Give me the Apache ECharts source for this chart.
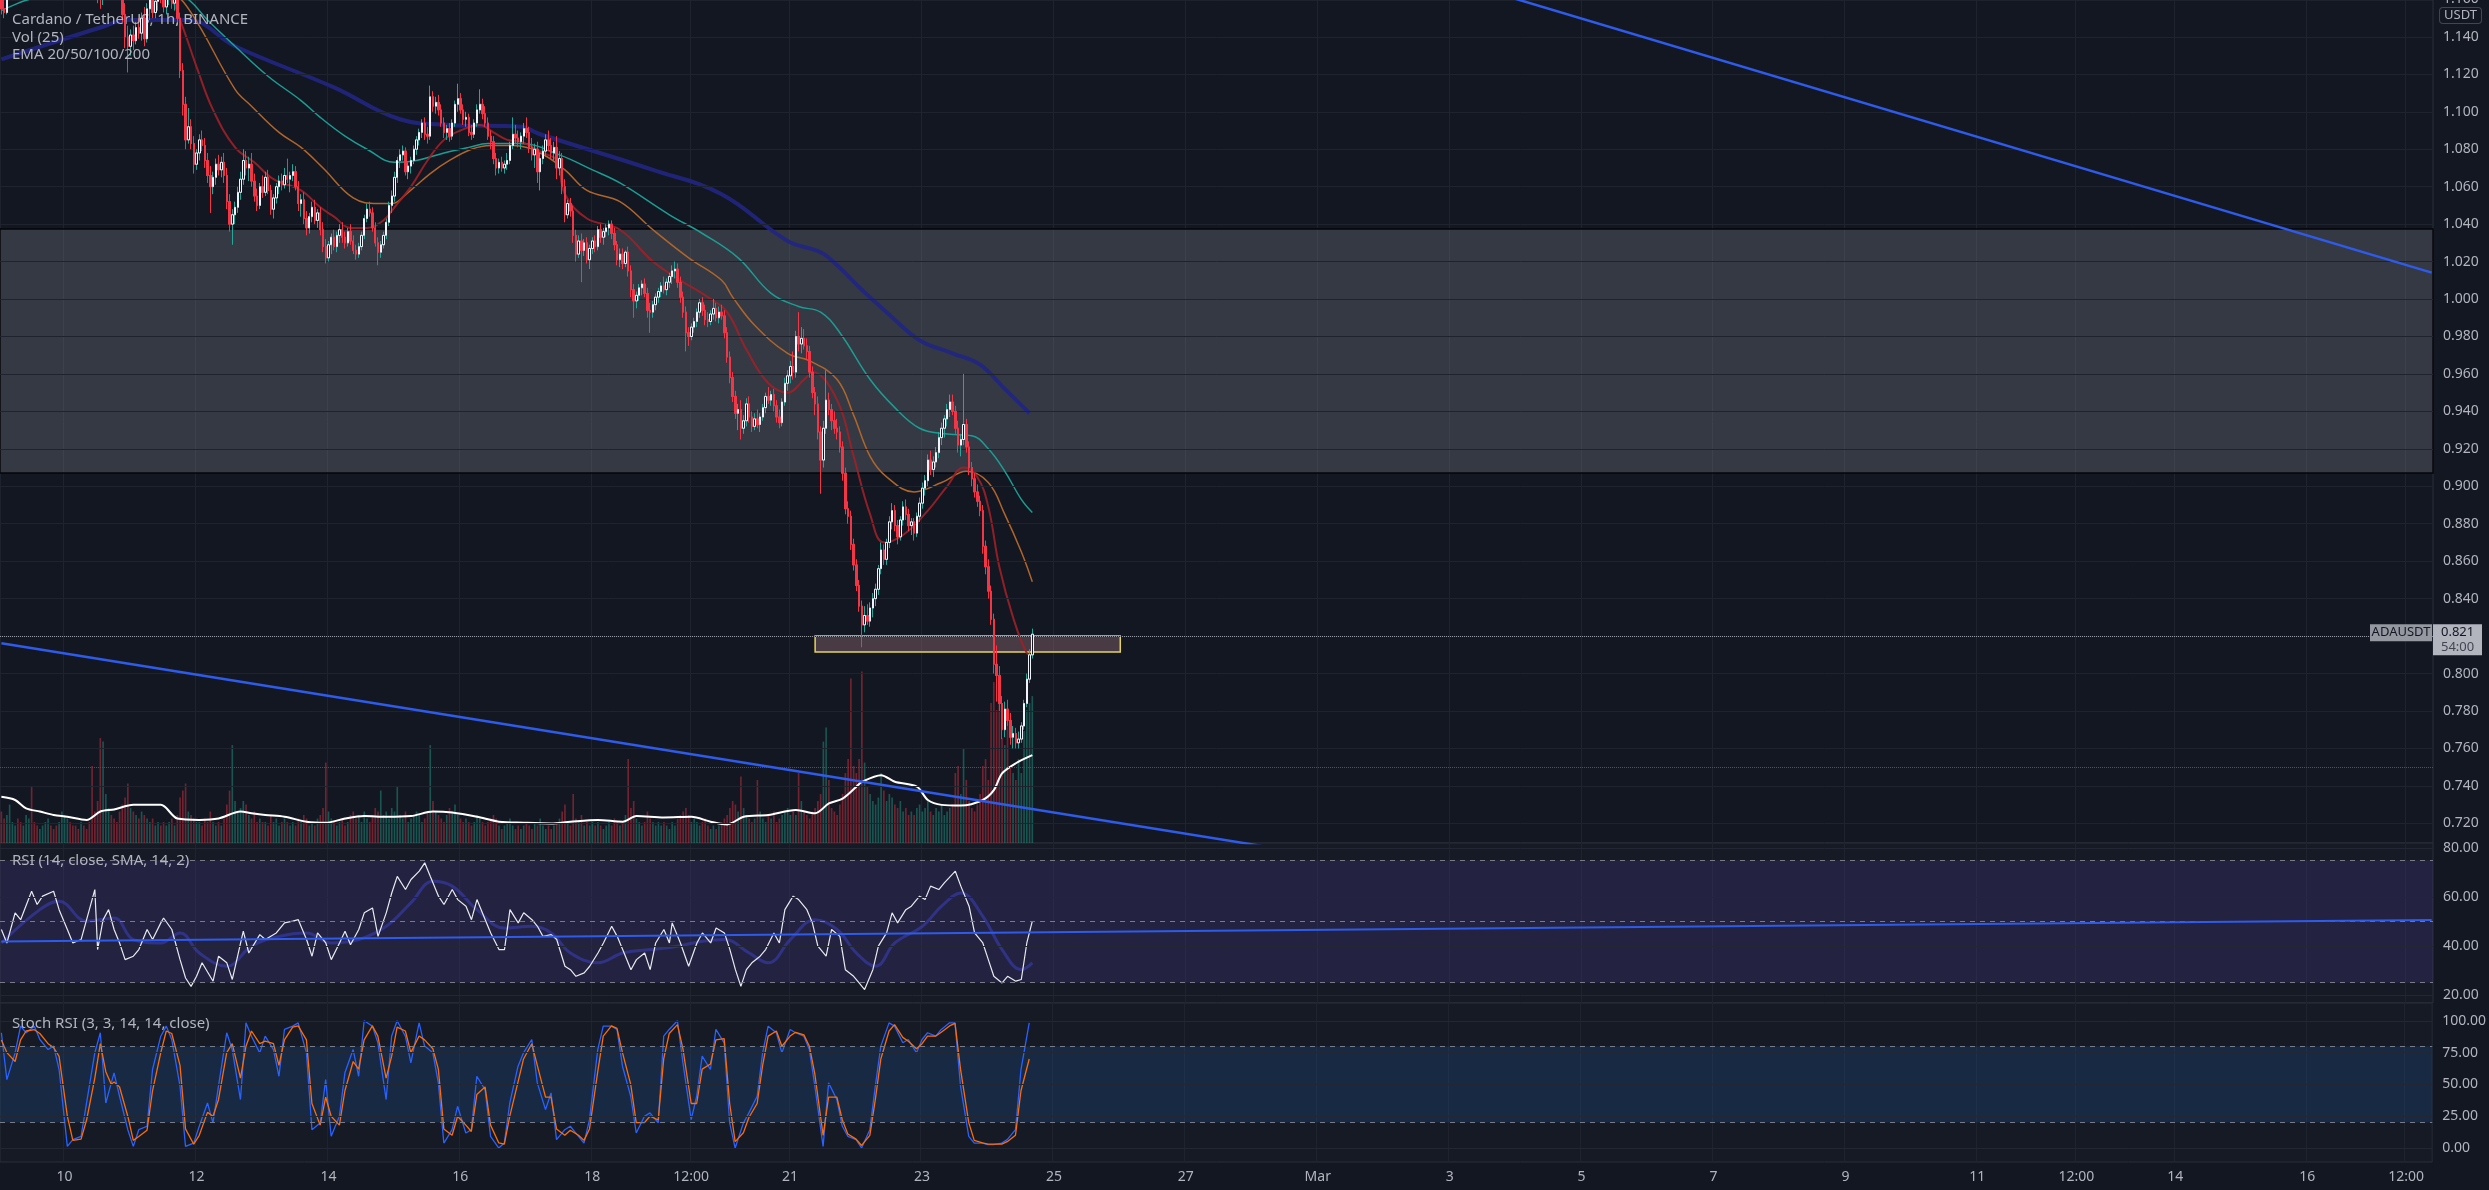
<!DOCTYPE html>
<html><head><meta charset="utf-8">
<script src="https://cdn.jsdelivr.net/npm/echarts@6/dist/echarts.min.js"></script>
<style>html,body{margin:0;padding:0;background:#131722;}#c{width:2489px;height:1190px;}</style>
</head><body><div id="c"></div>
<script>
// ---------- DATA (prices in thousandths of USDT) ----------
// hourly candles from Feb 9 01:00, rows are [open, high, low, close]
const ohlc = [
[1165,1170,1152,1155],[1155,1160,1150,1153],[1153,1166,1152,1163],[1163,1175,1160,1172],
[1172,1182,1168,1180],[1180,1188,1175,1184],[1184,1190,1178,1181],[1181,1186,1172,1176],
[1176,1183,1170,1179],[1179,1192,1177,1189],[1189,1196,1184,1192],[1192,1198,1186,1188],
[1188,1193,1180,1183],[1183,1187,1174,1178],[1178,1185,1173,1182],[1182,1190,1179,1187],
[1187,1195,1183,1191],[1191,1199,1187,1195],[1195,1202,1189,1192],[1192,1197,1184,1186],
[1186,1191,1178,1181],[1181,1188,1176,1185],[1185,1194,1182,1190],[1190,1205,1188,1201],
[1201,1212,1195,1207],[1207,1215,1199,1203],[1203,1208,1194,1198],[1198,1204,1190,1195],
[1195,1200,1186,1189],[1189,1196,1183,1192],[1192,1198,1185,1187],[1187,1192,1178,1182],
[1182,1188,1174,1178],[1178,1184,1170,1174],[1174,1180,1166,1170],[1170,1176,1158,1164],
[1164,1170,1155,1161],[1161,1172,1157,1169],[1169,1185,1166,1182],[1182,1195,1178,1190],
[1190,1198,1183,1186],[1186,1191,1175,1179],[1179,1184,1168,1172],[1172,1178,1161,1165],
[1165,1170,1148,1152],[1152,1158,1134,1140],[1140,1146,1121,1135],[1135,1144,1130,1141],
[1141,1146,1133,1138],[1138,1148,1136,1145],[1145,1150,1139,1142],[1142,1153,1138,1150],
[1150,1156,1135,1139],[1139,1158,1137,1155],[1155,1163,1149,1160],[1160,1165,1150,1153],
[1153,1162,1150,1159],[1159,1168,1154,1164],[1164,1172,1158,1161],[1161,1166,1153,1156],
[1156,1164,1152,1162],[1162,1170,1157,1165],[1165,1168,1155,1158],[1158,1166,1154,1163],
[1163,1167,1146,1150],[1150,1153,1118,1122],[1122,1126,1098,1104],[1104,1108,1080,1085],
[1085,1102,1083,1092],[1092,1096,1080,1083],[1083,1087,1067,1072],[1072,1080,1069,1078],
[1078,1088,1074,1085],[1085,1090,1079,1082],[1082,1086,1070,1074],[1074,1078,1062,1066],
[1066,1071,1046,1060],[1060,1068,1056,1065],[1065,1075,1061,1072],[1072,1077,1066,1069],
[1069,1076,1065,1073],[1073,1078,1062,1066],[1066,1070,1048,1052],[1052,1056,1036,1040],
[1040,1048,1029,1045],[1045,1052,1040,1049],[1049,1060,1046,1057],[1057,1068,1053,1064],
[1064,1080,1061,1074],[1074,1079,1066,1070],[1070,1076,1063,1072],[1072,1078,1060,1063],
[1063,1067,1052,1055],[1055,1059,1047,1050],[1050,1062,1048,1060],[1060,1066,1054,1057],
[1057,1068,1055,1065],[1065,1069,1056,1058],[1058,1061,1045,1048],[1048,1056,1043,1054],
[1054,1062,1051,1060],[1060,1066,1056,1063],[1063,1067,1058,1061],[1061,1070,1059,1066],
[1066,1075,1062,1064],[1064,1068,1057,1066],[1066,1072,1063,1068],[1068,1071,1058,1060],
[1060,1063,1047,1051],[1051,1056,1044,1053],[1053,1057,1040,1043],[1043,1047,1034,1038],
[1038,1046,1035,1044],[1044,1052,1041,1049],[1049,1053,1040,1042],[1042,1048,1038,1046],
[1046,1049,1034,1037],[1037,1041,1025,1028],[1028,1032,1019,1022],[1022,1031,1020,1029],
[1029,1035,1024,1033],[1033,1037,1026,1028],[1028,1036,1025,1034],[1034,1040,1030,1037],
[1037,1041,1030,1033],[1033,1036,1027,1030],[1030,1038,1028,1036],[1036,1040,1029,1031],
[1031,1034,1024,1026],[1026,1029,1021,1024],[1024,1030,1022,1028],[1028,1036,1026,1034],
[1034,1045,1032,1043],[1043,1051,1041,1048],[1048,1052,1044,1046],[1046,1049,1036,1038],
[1038,1041,1028,1030],[1030,1033,1018,1025],[1025,1031,1022,1029],[1029,1036,1027,1034],
[1034,1043,1032,1041],[1041,1052,1039,1050],[1050,1058,1046,1055],[1055,1068,1052,1065],
[1065,1076,1062,1074],[1074,1080,1070,1077],[1077,1082,1074,1079],[1079,1081,1066,1068],
[1068,1073,1064,1071],[1071,1076,1067,1074],[1074,1082,1072,1080],[1080,1087,1077,1085],
[1085,1091,1082,1089],[1089,1096,1086,1094],[1094,1097,1085,1088],[1088,1092,1083,1087],
[1087,1114,1085,1108],[1108,1111,1100,1103],[1103,1108,1099,1105],[1105,1109,1098,1101],
[1101,1104,1092,1094],[1094,1097,1086,1089],[1089,1093,1085,1091],[1091,1094,1084,1087],
[1087,1096,1085,1094],[1094,1106,1092,1104],[1104,1115,1100,1107],[1107,1110,1099,1101],
[1101,1104,1093,1096],[1096,1100,1092,1097],[1097,1099,1087,1089],[1089,1093,1085,1088],
[1088,1096,1086,1094],[1094,1104,1092,1101],[1101,1112,1099,1104],[1104,1107,1096,1099],
[1099,1103,1092,1094],[1094,1097,1085,1087],[1087,1090,1080,1084],[1084,1087,1072,1075],
[1075,1078,1066,1070],[1070,1075,1067,1073],[1073,1076,1068,1070],[1070,1074,1067,1072],
[1072,1078,1069,1074],[1074,1084,1072,1082],[1082,1097,1080,1088],[1088,1093,1083,1086],
[1086,1090,1081,1084],[1084,1089,1080,1087],
[1087,1094,1083,1091],[1091,1097,1086,1089],[1089,1092,1078,1081],[1081,1086,1074,1077],
[1077,1083,1070,1080],[1080,1084,1062,1068],[1068,1078,1058,1075],[1075,1082,1072,1079],
[1079,1088,1076,1085],[1085,1090,1079,1082],[1082,1086,1075,1078],[1078,1084,1074,1081],
[1081,1087,1064,1070],[1070,1079,1066,1075],[1075,1078,1056,1060],[1060,1064,1041,1045],
[1045,1053,1043,1051],[1051,1054,1044,1047],[1047,1050,1030,1034],[1034,1037,1020,1024],
[1024,1034,1022,1031],[1031,1035,1009,1026],[1026,1032,1023,1030],[1030,1033,1019,1021],
[1021,1029,1016,1027],[1027,1033,1024,1031],[1031,1034,1025,1028],[1028,1039,1026,1037],
[1037,1040,1030,1033],[1033,1038,1029,1036],[1036,1040,1033,1038],[1038,1042,1034,1040],
[1040,1042,1032,1035],[1035,1038,1026,1029],
[1029,1031,1018,1021],[1021,1027,1017,1024],[1024,1027,1016,1019],[1019,1026,1017,1025],
[1025,1028,1012,1015],[1015,1018,1001,1005],[1005,1008,990,999],[999,1004,995,1002],
[1002,1008,999,1006],[1006,1010,1002,1008],[1008,1011,1001,1003],[1003,1006,990,994],
[994,998,982,993],[993,999,990,997],[997,1003,994,1001],[1001,1006,998,1004],
[1004,1009,1001,1007],[1007,1012,1003,1005],[1005,1011,1002,1009],[1009,1014,1006,1012],
[1012,1018,1008,1015],[1015,1020,1011,1016],[1016,1019,1006,1009],[1009,1012,998,1001],
[1001,1004,990,993],[993,996,972,982],
[982,985,975,980],[980,987,978,985],[985,990,982,988],[988,995,985,993],
[993,1000,990,998],[998,1001,991,994],[994,997,986,989],[989,993,985,988],
[988,994,986,992],[992,1000,989,995],[995,998,988,990],[990,996,987,993],
[993,997,989,991],[991,994,979,982],
[982,985,966,969],[969,972,955,958],[958,961,945,948],[948,951,936,939],
[939,944,930,941],[941,946,925,931],[931,938,928,935],[935,947,932,944],
[944,948,934,937],[937,940,929,932],[932,939,930,936],[936,941,931,933],
[933,939,929,937],[937,944,935,942],[942,950,939,948],[948,953,944,946],
[946,951,943,949],[949,952,940,943],[943,946,934,937],[937,941,931,934],
[934,947,932,945],[945,958,943,955],[955,962,951,959],[959,967,955,964],
[964,972,957,961],[961,983,958,980],[980,993,972,976],[976,985,971,979],
[979,984,973,975],[975,979,968,972],[972,975,958,961],[961,964,947,950],
[950,953,938,944],[944,948,925,929],[929,932,896,914],[914,935,910,931],
[931,962,928,946],[946,950,938,941],[941,944,930,935],[935,940,928,931],
[931,936,925,929],[929,932,918,921],[921,924,903,907],[907,910,885,888],
[888,892,880,884],[884,887,866,869],[869,872,855,858],[858,861,844,847],
[847,850,833,836],[836,839,814,826],[826,836,822,831],[831,837,826,828],
[828,838,825,835],[835,843,830,840],[840,848,836,845],[845,858,842,856],
[856,870,853,866],[866,869,858,861],[861,872,858,870],[870,884,867,881],
[881,891,877,887],[887,890,876,879],[879,882,869,873],[873,884,871,882],
[882,892,879,889],[889,893,882,885],[885,888,876,879],[879,883,874,881],
[881,883,871,875],[875,886,873,884],[884,894,881,891],[891,902,888,899],
[899,906,895,903],[903,917,900,914],[914,919,906,909],[909,916,905,913],
[913,921,910,918],[918,929,915,926],[926,934,922,931],[931,938,926,936],
[936,944,932,941],[941,949,937,945],[945,949,938,940],[940,943,928,931],
[931,935,918,922],[922,928,916,925],[925,960,922,933],[933,936,918,921],
[921,924,906,910],[910,913,900,904],[904,907,894,897],[897,901,889,892],
[892,895,884,887],[887,890,864,868],[868,871,853,857],[857,861,840,844],
[844,847,826,829],[829,832,800,805],[805,815,785,799],[799,804,780,784],
[784,788,765,770],[770,785,766,781],[781,786,772,775],[775,779,762,766],
[766,772,760,768],[768,771,760,763],[763,769,760,765],[765,774,763,772],
[772,786,770,784],[784,800,782,797],[797,813,795,810],[810,824,808,821]
];
// hourly volume, millions ADA
const volume = [
9,7,8,11,6,5,7,6,5,8,7,16, 6,5,4,5,6,7,5,4,5,6,9,8, 7,6,5,5,4,6,5,4,6,22,9,12,
30,29,14,10,8,7,6,9,11,13,17,10, 9,8,7,9,8,7,6,7,5,6,5,6, 5,6,7,5,8,13,15,17,9,8,7,6,
6,5,7,6,9,6,5,6,5,7,11,15, 28,12,9,10,12,11,8,7,9,6,7,6, 6,5,8,6,7,5,6,7,6,5,6,5,
7,6,8,7,5,6,5,7,8,10,23,9, 7,6,5,6,7,5,6,8,9,7,8,6, 9,7,6,8,10,9,15,8,9,7,10,9,
16,8,7,9,6,7,8,9,8,6,7,9, 28,12,9,8,7,6,8,10,9,11,8,7, 6,7,6,5,6,8,7,6,5,6,7,8,
7,5,4,5,6,7,5,4,5,4,5,6, 5,4,6,5,7,5,4,5,4,5,6,7, 9,11,6,5,14,7,6,8,5,6,5,6,
5,6,5,4,5,6,5,7,6,5,6,8, 24,10,12,7,6,5,6,9,7,6,5,6, 5,6,5,4,6,5,7,8,9,10,8,6,
7,6,5,6,7,5,4,5,4,5,6,7, 8,10,12,11,9,19,10,8,7,6,7,18, 9,7,6,8,7,9,6,7,8,9,10,8,
9,8,20,12,9,8,7,9,10,12,14,29, 33,18,10,9,8,11,14,20,24,47,22,20, 24,49,23,16,14,12,11,13,20,15,12,14,
13,11,10,12,9,10,8,9,8,10,11,9, 10,12,9,8,10,9,11,8,9,10,11,20, 22,14,27,18,12,10,9,11,14,22,24,18,
40,46,38,45,30,28,35,22,20,18,24,20, 32,38,40,42
];
// read points [hour, value]
const volMA = [[1,13.2],[6,12.3],[10,9.9],[15,9.0],[20,8.0],[25,7.5],[32,6.6],[37,9.0],[42,9.6],[49,10.9],[59,10.9],[65,7.0],[73,6.6],[80,7.0],[88,9.0],[92,8.5],[97,8.0],[104,7.5],[112,6.1],[119,5.8],[126,7.0],[133,7.7],[141,7.5],[150,7.7],[158,9.0],[165,8.7],[174,7.5],[182,6.1],[191,5.8],[201,5.6],[208,6.1],[218,6.6],[227,6.1],[232,7.7],[242,7.3],[252,7.5],[259,6.1],[265,5.3],[271,7.5],[280,8.0],[290,9.4],[297,8.5],[302,11.3],[307,12.7],[312,16.1],[314,17.5],[321,19.4],[326,17.5],[334,16.1],[338,12.3],[343,10.9],[350,10.7],[358,12.3],[362,15.1],[365,19.9],[370,22.8],[376,25.1]];
const ema20 = [[40,1.175],[55,1.163],[62,1.161],[66,1.149],[72,1.124],[78,1.101],[86,1.081],[93,1.073],[100,1.064],[110,1.058],[117,1.049],[122,1.044],[128,1.038],[134,1.038],[140,1.042],[144,1.049],[150,1.060],[156,1.074],[162,1.085],[168,1.090],[175,1.093],[180,1.089],[185,1.085],[190,1.084],[198,1.078],[203,1.074],[206,1.056],[214,1.043],[226,1.037],[238,1.020],[248,1.010],[258,1.001],[265,0.993],[272,0.973],[280,0.955],[287,0.950],[293,0.957],[296,0.961],[305,0.946],[311,0.916],[317,0.885],[322,0.870],[329,0.874],[338,0.887],[345,0.900],[351,0.910],[356,0.905],[360,0.889],[364,0.857],[369,0.830],[374,0.811],[376,0.810]];
const ema50 = [[50,1.170],[62,1.165],[70,1.153],[86,1.112],[92,1.103],[102,1.089],[110,1.081],[118,1.070],[129,1.054],[138,1.051],[143,1.051],[149,1.057],[157,1.067],[164,1.074],[172,1.080],[179,1.082],[187,1.082],[197,1.078],[206,1.069],[214,1.058],[226,1.052],[238,1.037],[251,1.022],[263,1.010],[267,1.001],[275,0.986],[287,0.971],[295,0.967],[305,0.957],[311,0.938],[317,0.916],[323,0.905],[333,0.897],[343,0.902],[352,0.908],[360,0.902],[366,0.885],[372,0.865],[376,0.849]];
const ema100 = [[1,1.154],[4,1.156],[11,1.160],[30,1.165],[50,1.167],[62,1.165],[69,1.160],[76,1.149],[86,1.135],[98,1.119],[110,1.106],[117,1.097],[126,1.087],[134,1.080],[144,1.073],[152,1.074],[162,1.078],[171,1.081],[178,1.083],[190,1.083],[204,1.077],[216,1.069],[226,1.062],[244,1.045],[256,1.035],[269,1.022],[281,1.003],[291,0.996],[299,0.993],[306,0.982],[317,0.957],[326,0.942],[335,0.931],[344,0.928],[354,0.927],[360,0.920],[366,0.908],[372,0.893],[376,0.886]];
const ema200 = [[1,1.128],[37,1.145],[47,1.149],[69,1.149],[86,1.135],[122,1.113],[146,1.096],[164,1.093],[190,1.092],[197,1.088],[238,1.069],[263,1.056],[287,1.031],[299,1.025],[305,1.018],[314,1.005],[323,0.993],[335,0.978],[347,0.971],[357,0.965],[366,0.952],[375,0.939]];
const rsi = [[1,46.7],[3,41.2],[6,53.5],[8,50.7],[12,62.3],[14,56.9],[16,60.3],[20,62.3],[22,54.8],[25,46.7],[27,41.2],[30,42.6],[32,50.7],[35,63.0],[36,38.5],[38,50.7],[40,54.8],[42,46.7],[44,41.2],[46,34.4],[49,35.8],[51,38.5],[54,46.7],[56,42.6],[59,49.4],[60,51.4],[63,46.7],[66,34.4],[68,26.9],[70,23.5],[72,27.6],[74,33.1],[78,25.6],[80,35.8],[83,33.1],[85,26.3],[89,46.0],[91,37.1],[95,44.6],[97,42.6],[101,45.3],[104,49.4],[107,50.1],[109,50.7],[112,42.6],[114,35.8],[116,45.3],[119,41.2],[121,34.4],[124,41.2],[126,46.0],[128,40.5],[131,46.7],[133,53.5],[136,55.5],[138,43.9],[141,53.5],[143,61.6],[145,68.4],[148,63.0],[150,67.1],[153,70.5],[155,73.9],[157,68.4],[160,60.3],[162,56.9],[165,63.0],[167,58.9],[170,56.2],[172,50.7],[174,58.9],[177,50.7],[179,45.3],[182,38.5],[184,38.5],[186,54.8],[189,49.4],[191,53.5],[194,50.7],[196,48.0],[198,43.9],[201,44.6],[203,42.6],[206,31.7],[208,30.3],[210,27.6],[213,29.0],[215,31.7],[218,37.1],[220,41.2],[223,48.0],[225,43.9],[227,38.5],[230,30.3],[232,34.4],[235,37.1],[237,30.3],[239,41.2],[242,46.7],[244,41.2],[245,49.4],[248,41.2],[251,31.7],[254,41.2],[256,45.3],[259,41.2],[261,47.3],[264,45.3],[266,38.5],[268,30.3],[270,23.5],[272,30.3],[274,33.1],[277,35.8],[279,38.5],[282,45.3],[284,41.2],[286,54.8],[289,60.3],[291,58.9],[294,54.8],[296,49.4],[298,39.9],[301,35.8],[303,46.7],[306,43.9],[308,30.3],[311,27.6],[313,24.9],[315,22.2],[318,30.3],[320,39.9],[323,45.3],[325,53.5],[327,49.4],[330,54.8],[332,56.2],[335,60.3],[337,58.9],[339,64.4],[342,63.0],[344,65.7],[348,70.5],[350,64.4],[353,56.2],[355,45.3],[358,41.2],[360,34.4],[362,27.6],[365,24.9],[367,27.6],[370,25.6],[372,26.3],[374,41.2],[376,50.1]];
const rsiMA = [[1,41.2],[15,54.8],[22,58.2],[32,50.1],[42,51.4],[49,42.6],[59,41.2],[66,45.3],[73,37.1],[83,31.7],[92,39.9],[102,43.9],[112,45.3],[121,41.2],[131,42.6],[141,48.0],[150,57.6],[158,66.4],[165,64.4],[174,54.8],[184,47.3],[194,48.0],[201,45.3],[208,37.1],[218,33.1],[227,37.1],[237,38.5],[247,39.9],[256,41.9],[264,42.6],[273,37.1],[280,33.1],[288,42.6],[297,50.7],[305,46.7],[312,37.1],[319,31.7],[326,41.2],[336,48.0],[343,56.2],[350,61.6],[358,52.1],[365,38.5],[372,30.3],[376,33.1]];
const stochK = [[1,90.6],[3,53.8],[6,74.8],[8,95.8],[10,90.6],[13,95.8],[15,85.3],[18,77.4],[20,80.1],[22,61.7],[25,1.3],[27,6.6],[30,9.2],[32,35.4],[35,74.8],[37,90.6],[39,35.4],[41,51.2],[42,59.1],[44,40.7],[47,14.4],[49,1.3],[51,14.4],[54,17.1],[56,61.7],[59,87.9],[61,95.8],[63,85.3],[66,48.6],[68,1.3],[71,3.9],[73,17.1],[76,35.4],[78,19.7],[80,48.6],[83,90.6],[85,77.4],[88,38.1],[90,98.4],[92,87.9],[95,74.8],[97,87.9],[100,77.4],[102,56.4],[104,93.2],[107,95.8],[109,98.4],[112,74.8],[114,14.4],[117,19.7],[119,53.8],[121,9.2],[124,24.9],[126,59.1],[129,77.4],[131,56.4],[133,100],[136,95.8],[138,82.7],[141,38.1],[143,87.9],[145,100],[148,87.9],[150,66.9],[153,98.4],[155,80.1],[158,74.8],[160,51.2],[162,3.9],[165,14.4],[167,32.8],[170,11.8],[172,14.4],[174,56.4],[177,45.9],[179,9.2],[182,0],[184,3.9],[186,35.4],[189,64.3],[191,74.8],[194,85.3],[196,51.2],[199,30.2],[201,43.3],[203,6.6],[206,14.4],[208,17.1],[211,9.2],[213,3.9],[215,22.3],[218,77.4],[220,95.8],[223,95.8],[225,93.2],[227,64.3],[230,40.7],[232,11.8],[235,24.9],[237,27.6],[240,19.7],[242,87.9],[244,93.2],[247,100],[249,66.9],[252,22.3],[254,40.7],[256,72.2],[259,61.7],[261,93.2],[264,82.7],[266,19.7],[268,0],[271,19.7],[273,27.6],[276,40.7],[278,74.8],[280,95.8],[283,90.6],[285,74.8],[288,93.2],[290,90.6],[293,87.9],[295,77.4],[297,48.6],[300,1.3],[302,51.2],[305,38.1],[307,17.1],[309,9.2],[312,6.6],[314,0],[317,14.4],[319,48.6],[321,80.1],[324,98.4],[326,95.8],[329,82.7],[331,85.3],[334,74.8],[336,85.3],[338,90.6],[341,87.9],[343,93.2],[346,98.4],[348,98.4],[350,48.6],[353,9.2],[355,3.9],[358,3.9],[360,2.6],[362,2.6],[365,3.9],[367,6.6],[370,14.4],[372,61.7],[375,98.4]];
const stochD = [[1,85],[3,75],[6,68],[8,85],[10,92],[13,93],[15,90],[18,82],[20,79],[22,72],[25,25],[27,6],[30,7],[32,22],[35,55],[37,82],[39,60],[41,50],[42,52],[44,48],[47,25],[49,6],[51,9],[54,14],[56,45],[59,75],[61,92],[63,90],[66,65],[68,15],[71,3],[73,10],[76,28],[78,25],[80,38],[83,75],[85,82],[88,55],[90,80],[92,92],[95,82],[97,84],[100,82],[102,65],[104,85],[107,95],[109,96],[112,85],[114,35],[117,18],[119,40],[121,25],[124,18],[126,45],[129,68],[131,62],[133,85],[136,96],[138,88],[141,55],[143,72],[145,95],[148,92],[150,75],[153,88],[155,85],[158,78],[160,62],[162,15],[165,10],[167,25],[170,18],[172,13],[174,42],[177,48],[179,18],[182,4],[184,3],[186,25],[189,52],[191,70],[194,82],[196,65],[199,40],[201,40],[203,15],[206,10],[208,14],[211,10],[213,6],[215,15],[218,60],[220,88],[223,96],[225,94],[227,75],[230,50],[232,20],[235,20],[237,25],[240,22],[242,70],[244,90],[247,97],[249,78],[252,35],[254,35],[256,62],[259,66],[261,85],[264,86],[266,35],[268,5],[271,12],[273,24],[276,35],[278,65],[280,88],[283,92],[285,80],[288,88],[290,91],[293,89],[295,80],[297,58],[300,10],[302,40],[305,40],[307,22],[309,11],[312,7],[314,2],[317,10],[319,38],[321,70],[324,92],[326,97],[329,87],[331,84],[334,78],[336,82],[338,88],[341,88],[343,91],[346,96],[348,98],[350,62],[353,20],[355,6],[358,4],[360,3],[362,3],[365,3],[367,5],[370,10],[372,45],[375,70]];
// drawn trendlines [hour, value]
const upperTrend = [[501,1.1826],[885,1.0141]];
const lowerTrend = [[1,0.8162],[471,0.7052]];
const rsiTrend = [[1,41.8],[885,50.6]];
// zones
const grayZone = [0.9071, 1.0374];
const supportBox = {from: 297, to: 408, low: 0.8115, high: 0.8200};
const lastPrice = 0.821, volLine = 0.7469;
// axes
const totalHours = 885;
const labelHours = [24,72,120,168,216,252,288,336,384,432,480,528,576,624,672,720,756,792,840,876];
const labelTexts = ['10','12','14','16','18','12:00','21','23','25','27','Mar','3','5','7','9','11','12:00','14','16','12:00'];
const priceTicks = [0.72,0.74,0.76,0.78,0.80,0.82,0.84,0.86,0.88,0.90,0.92,0.94,0.96,0.98,1.00,1.02,1.04,1.06,1.08,1.10,1.12,1.14];
const priceTop = 1.16;
const rsiTicks = [20,40,60,80];
const stochTicks = [0,25,50,75,100];

// ---------- BUILD ----------
const FONT = 'Noto Sans';
const TXT = '#b2b5be';
const AXIS_W = 56;
const hours = []; for (let h = 1; h <= totalHours; h++) hours.push(h);
const labelIdx = new Set(labelHours.map(h => h - 1));
const atLabel = (i) => labelIdx.has(i);
const P = (h, v) => [h - 1, v];
const S = 1000;
const candles = ohlc.map(r => [r[0]/S, r[3]/S, r[2]/S, r[1]/S]);
const bodies = ohlc.map(r => [r[0]/S, r[3]/S, Math.min(r[0], r[3])/S, Math.max(r[0], r[3])/S]);
const volBars = volume.map((v, i) => {
  const r = ohlc[Math.min(i, ohlc.length - 1)];
  const up = r[3] >= r[0];
  return {value: v, itemStyle: {color: up ? 'rgba(34,171,148,0.42)' : 'rgba(242,54,69,0.42)'}};
});
const pts = arr => arr.map(([h, v]) => P(h, v));

function xAx(gi, showLabel) {
  return {
    type: 'category', gridIndex: gi, data: hours, boundaryGap: true,
    axisLine: {show: false}, axisTick: {show: false},
    axisLabel: {show: showLabel, interval: atLabel, color: TXT, fontSize: 14, fontFamily: FONT, margin: 8,
      formatter: (val) => { const k = labelHours.indexOf(Number(val)); return k >= 0 ? labelTexts[k] : ''; }},
    splitLine: {show: true, interval: atLabel, lineStyle: {color: '#1f232e', width: 1}}
  };
}
function yAx(gi, min, max, ticks, dec) {
  return {
    type: 'value', gridIndex: gi, position: 'right', min, max, scale: true,
    axisLine: {show: false}, axisTick: {show: false}, splitLine: {show: false},
    axisLabel: {customValues: ticks, color: TXT, fontSize: 14, fontFamily: FONT, margin: 10,
      formatter: v => Number(v).toFixed(dec)}
  };
}
const hLines = (vals, color, type) => ({
  silent: true, symbol: 'none', animation: false, label: {show: false},
  lineStyle: {color, width: 1, type}, data: vals.map(v => ({yAxis: v}))
});
const lineS = (name, xi, yi, data, color, width, z, extra) => Object.assign({
  name, type: 'line', xAxisIndex: xi, yAxisIndex: yi, data, showSymbol: false, symbol: 'none',
  lineStyle: {color, width}, itemStyle: {color}, z, silent: true, animation: false
}, extra || {});
const titleStyle = {color: TXT, fontSize: 15, fontWeight: 'normal', fontFamily: FONT};

const option = {
  backgroundColor: '#131722',
  animation: false,
  textStyle: {fontFamily: FONT},
  title: [
    {text: 'Cardano / TetherUS, 1h, BINANCE\nVol (25)\nEMA 20/50/100/200', left: 7, top: 6,
     textStyle: Object.assign({lineHeight: 17.5}, titleStyle)},
    {text: 'RSI (14, close, SMA, 14, 2)', left: 7, top: 848, textStyle: titleStyle},
    {text: 'Stoch RSI (3, 3, 14, 14, close)', left: 7, top: 1011, textStyle: titleStyle}
  ],
  grid: [
    {left: 0, right: AXIS_W, top: 0, height: 843, show: true, borderColor: '#2a2e39', borderWidth: 1, backgroundColor: '#131722'},
    {left: 0, right: AXIS_W, top: 843, height: 160, show: true, borderColor: '#2a2e39', borderWidth: 1, backgroundColor: '#161a25'},
    {left: 0, right: AXIS_W, top: 1003, height: 159, show: true, borderColor: '#2a2e39', borderWidth: 1, backgroundColor: '#161a25'}
  ],
  xAxis: [xAx(0, false), xAx(1, false), xAx(2, true)],
  yAxis: [
    yAx(0, 0.7095, 1.1597, priceTicks, 3),
    {type: 'value', gridIndex: 0, min: 0, max: 241, show: false, splitLine: {show: false}},
    yAx(1, 16.7, 82.0, rsiTicks, 2),
    yAx(2, -11, 114, stochTicks, 2)
  ],
  series: [
    lineS('zones', 0, 0, [], 'transparent', 0, 1, {
      markArea: {silent: true, data: [
        [{yAxis: grayZone[0], itemStyle: {color: 'rgba(120,123,134,0.34)', borderColor: '#05060a', borderWidth: 1.5}}, {yAxis: grayZone[1]}],
        [{xAxis: supportBox.from - 1, yAxis: supportBox.low, itemStyle: {color: 'rgba(140,105,110,0.45)', borderColor: '#e8d35a', borderWidth: 1.5}},
         {xAxis: supportBox.to - 1, yAxis: supportBox.high}]
      ]},
      markLine: hLines(priceTicks, '#1f232e', 'solid')
    }),
    {name: 'Vol', type: 'bar', xAxisIndex: 0, yAxisIndex: 1, data: volBars, barWidth: '60%', z: 2, silent: true, animation: false},
    lineS('Vol MA', 0, 1, pts(volMA), '#ffffff', 2, 3, {smooth: 0.3}),
    lineS('EMA200', 0, 0, pts(ema200), 'rgba(33,38,130,0.9)', 4, 4, {smooth: 0.4}),
    lineS('EMA100', 0, 0, pts(ema100), '#1c9c92', 1.5, 4, {smooth: 0.4}),
    lineS('EMA50', 0, 0, pts(ema50), '#b0652b', 1.5, 4, {smooth: 0.4}),
    lineS('EMA20', 0, 0, pts(ema20), 'rgba(160,32,40,0.9)', 2, 4, {smooth: 0.4}),
    {name: 'wicks', type: 'candlestick', xAxisIndex: 0, yAxisIndex: 0, data: candles, barWidth: '70%', z: 5, silent: true, animation: false,
     itemStyle: {color: '#26a69a', color0: '#f23645', borderColor: '#26a69a', borderColor0: '#f23645', borderWidth: 1}},
    {name: 'bodies', type: 'candlestick', xAxisIndex: 0, yAxisIndex: 0, data: bodies, barWidth: '70%', z: 6, silent: true, animation: false,
     itemStyle: {color: '#131722', color0: '#f23645', borderColor: '#f0f3fa', borderColor0: '#f23645', borderWidth: 1}},
    lineS('upperTrend', 0, 0, pts(upperTrend), '#2f5bea', 2.5, 7),
    lineS('lowerTrend', 0, 0, pts(lowerTrend), '#2f5bea', 2.5, 7),
    lineS('lastPrice', 0, 0, [], 'transparent', 0, 8, {
      markLine: {silent: true, symbol: 'none', animation: false, label: {show: false}, data: [
        {yAxis: lastPrice, lineStyle: {color: '#9598a1', type: 'dotted', width: 1}},
        {yAxis: volLine, lineStyle: {color: '#4f525e', type: 'dotted', width: 1}}
      ]}
    }),
    // RSI pane
    lineS('rsiBands', 1, 2, [], 'transparent', 0, 1, {
      markArea: {silent: true, data: [[{yAxis: 25, itemStyle: {color: 'rgba(72,62,140,0.28)'}}, {yAxis: 75}]]},
      markLine: {silent: true, symbol: 'none', animation: false, label: {show: false}, data: [
        ...rsiTicks.map(v => ({yAxis: v, lineStyle: {color: '#232734', width: 1, type: 'solid'}})),
        ...[75, 50, 25].map(v => ({yAxis: v, lineStyle: {color: '#787b86', width: 1, type: [5, 5]}}))
      ]}
    }),
    lineS('RSI MA', 1, 2, pts(rsiMA), 'rgba(60,64,190,0.55)', 3, 3, {smooth: 0.4}),
    lineS('RSI', 1, 2, pts(rsi), '#e8eaf0', 1.2, 4),
    lineS('rsiTrend', 1, 2, pts(rsiTrend), '#2f5bea', 2, 5),
    // Stoch pane
    lineS('stochBands', 2, 3, [], 'transparent', 0, 1, {
      markArea: {silent: true, data: [[{yAxis: 20, itemStyle: {color: 'rgba(33,87,160,0.25)'}}, {yAxis: 80}]]},
      markLine: {silent: true, symbol: 'none', animation: false, label: {show: false}, data: [
        ...stochTicks.map(v => ({yAxis: v, lineStyle: {color: '#232734', width: 1, type: 'solid'}})),
        ...[80, 20].map(v => ({yAxis: v, lineStyle: {color: '#787b86', width: 1, type: [5, 5]}}))
      ]}
    }),
    lineS('K', 2, 3, pts(stochK), '#2962ff', 1.3, 3),
    lineS('D', 2, 3, pts(stochD), '#ff6d00', 1.3, 4)
  ]
};
const el = document.getElementById('c');
const chart = echarts.init(el, null, {renderer: 'canvas'});
chart.setOption(option);

// price tags and the clipped top tick, placed through the price scale
const yTag = chart.convertToPixel({yAxisIndex: 0}, lastPrice);
const yTop = chart.convertToPixel({yAxisIndex: 0}, priceTop);
const plotRight = chart.getWidth() - AXIS_W;
chart.setOption({graphic: [
  {type: 'text', z: 99, x: plotRight + 10, y: yTop, style: {text: priceTop.toFixed(3), fill: TXT, font: '14px "Noto Sans"', verticalAlign: 'middle'}},
  {type: 'text', right: 7, top: 7, z: 100, style: {text: 'USDT', fill: TXT, font: '13px "Noto Sans"',
    backgroundColor: '#131722', borderColor: '#434651', borderWidth: 1, borderRadius: 3, padding: [1, 4]}},
  {type: 'rect', z: 100, shape: {x: plotRight - 63, y: yTag - 10, width: 62, height: 17}, style: {fill: '#9598a1'}},
  {type: 'text', z: 101, x: plotRight - 32, y: yTag - 1.5, style: {text: 'ADAUSDT', fill: '#131722', font: '13px "Noto Sans"', align: 'center', verticalAlign: 'middle'}},
  {type: 'rect', z: 100, shape: {x: plotRight, y: yTag - 10, width: 49, height: 31}, style: {fill: '#b2b5be'}},
  {type: 'text', z: 101, x: plotRight + 8, y: yTag - 1.5, style: {text: '0.821', fill: '#131722', font: '13px "Noto Sans"', verticalAlign: 'middle'}},
  {type: 'text', z: 101, x: plotRight + 8, y: yTag + 13, style: {text: '54:00', fill: '#434651', font: '13px "Noto Sans"', verticalAlign: 'middle'}}
]});
</script></body></html>
